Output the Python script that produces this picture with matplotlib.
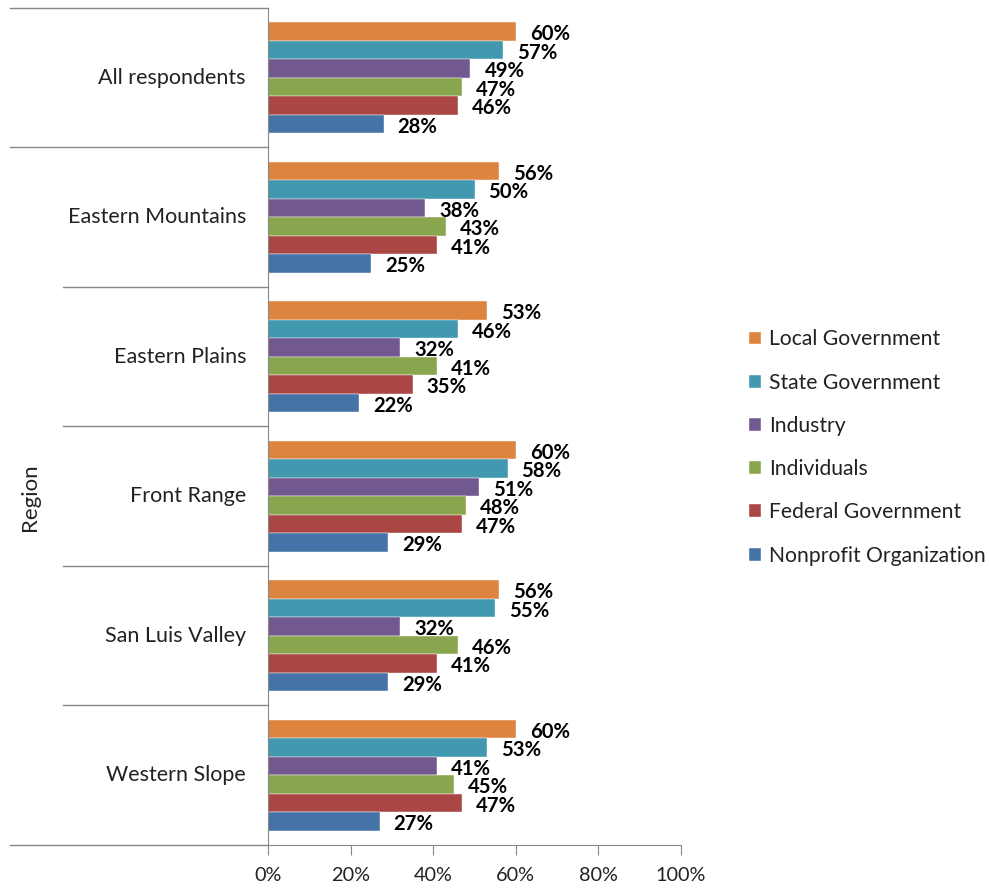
import matplotlib.pyplot as plt
import matplotlib.transforms as mtransforms
import numpy as np

plt.rcParams['font.family'] = ['Lato', 'DejaVu Sans']

regions = ['All respondents', 'Eastern Mountains', 'Eastern Plains',
           'Front Range', 'San Luis Valley', 'Western Slope']
series = ['Local Government', 'State Government', 'Industry',
          'Individuals', 'Federal Government', 'Nonprofit Organization']
local_gov = [60, 56, 53, 60, 56, 60]
state_gov = [57, 50, 46, 58, 55, 53]
industry = [49, 38, 32, 51, 32, 41]
individuals = [47, 43, 41, 48, 46, 45]
federal_gov = [46, 41, 35, 47, 41, 47]
nonprofit = [28, 25, 22, 29, 29, 27]
colors = ['#DD843F', '#4198AF', '#71588F', '#89A54E', '#AA4643', '#4572A7']
x_ticks = [0, 20, 40, 60, 80, 100]

values = [local_gov, state_gov, industry, individuals, federal_gov, nonprofit]

fig = plt.figure(figsize=(9.89, 8.88), dpi=100)
ax = fig.add_axes([268 / 989, 1 - 845 / 888, 413 / 989, 837 / 888])

bar_h = 0.133
y = np.arange(len(regions))
for k, (name, vals, col) in enumerate(zip(series, values, colors)):
    pos = y - 2.5 * bar_h + k * bar_h
    ax.barh(pos, vals, height=bar_h, color=col, label=name,
            edgecolor='white', linewidth=0.3)
    for p, v in zip(pos, vals):
        ax.text(v + 3.4, p + 0.02, f'{v}%', ha='left', va='center',
                fontsize=14.6, fontweight='bold', color='black')

ax.set_xlim(0, 100)
ax.set_ylim(len(regions) - 0.5, -0.5)
ax.set_xticks(x_ticks)
ax.set_xticklabels([f'{t}%' for t in x_ticks], fontsize=14.3, color='#222222')
ax.set_yticks([])
ax.tick_params(axis='x', length=7, color='#888888', pad=9)

for s in ['top', 'right']:
    ax.spines[s].set_visible(False)
ax.spines['left'].set_color('#888888')
ax.spines['bottom'].set_color('#888888')

# region labels and separator lines to the left of the axis
trans = mtransforms.blended_transform_factory(fig.transFigure, ax.transData)
for i, r in enumerate(regions):
    ax.text(246 / 989, i, r, transform=trans, ha='right', va='center',
            fontsize=15.5, color='#222222')
bounds = np.arange(len(regions) + 1) - 0.5
for j, b in enumerate(bounds):
    x0 = 10 / 989 if j in (0, 1, len(bounds) - 1) else 63 / 989
    ax.plot([x0, 268 / 989], [b, b], transform=trans, color='#888888',
            linewidth=1, clip_on=False)

fig.text(30 / 989, 1 - 497 / 888, 'Region', rotation=90, ha='center',
         va='center', fontsize=16, color='#222222')

leg = fig.legend(loc='upper left', bbox_to_anchor=(741 / 989, 1 - 321 / 888),
                 frameon=False, fontsize=15.2, handlelength=0.56, handleheight=0.56,
                 handletextpad=0.36, labelspacing=1.1, borderaxespad=0)
for t in leg.get_texts():
    t.set_color('#222222')

fig.savefig('out.png', dpi=100)
